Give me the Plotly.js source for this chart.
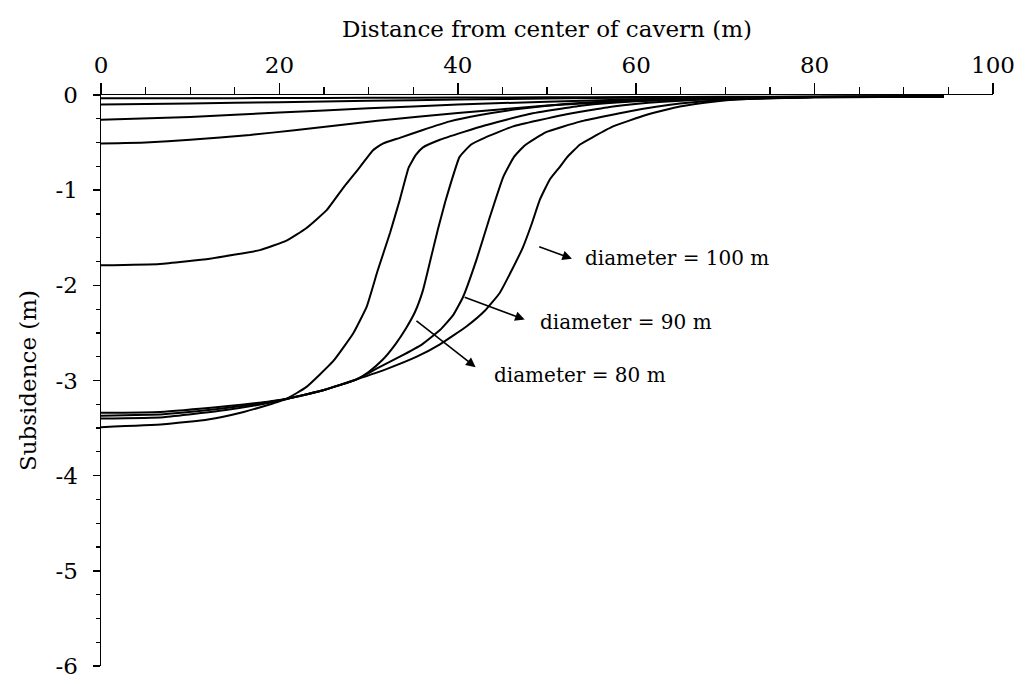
<!DOCTYPE html>
<html>
<head>
<meta charset="utf-8">
<script src="https://cdn.plot.ly/plotly-3.0.1.min.js"></script>
<style>html,body{margin:0;padding:0;background:#fff;}#chart{width:1025px;height:684px;}</style>
</head>
<body>
<div id="chart"></div>
<script>
// Flat curves near the surface
var curveA_x = [0,10,20,30,40,50,60,70,80,94.5];
var curveA_y = [-0.035,-0.034,-0.032,-0.030,-0.027,-0.024,-0.021,-0.019,-0.017,-0.015];
var curveB_x = [0,10,20,30,40,50,60,70,80,94.5];
var curveB_y = [-0.10,-0.09,-0.075,-0.06,-0.048,-0.037,-0.028,-0.022,-0.018,-0.015];
var curveC_x = [0,10,20,30,40,50,60,70,80,94.5];
var curveC_y = [-0.26,-0.23,-0.185,-0.14,-0.10,-0.07,-0.045,-0.03,-0.02,-0.015];
var curveD_x = [0,5,10,16.7,21.7,31,40,50,60,70,80,94.5];
var curveD_y = [-0.51,-0.50,-0.47,-0.42,-0.37,-0.27,-0.19,-0.11,-0.06,-0.035,-0.022,-0.015];
// S-shaped curves
var curveS1_x = [0,6.6,12.2,17.8,20.8,23,25.3,27.2,29,30.5,31.6,33.5,36,39,42.5,47,52,57,62,70,80,94.5];
var curveS1_y = [-1.79,-1.775,-1.72,-1.63,-1.53,-1.40,-1.21,-0.97,-0.76,-0.58,-0.51,-0.45,-0.37,-0.28,-0.21,-0.145,-0.095,-0.065,-0.045,-0.028,-0.02,-0.015];
var curveS2_x = [0,6.6,14,18,20.8,23,26,28.3,29.8,31,32.4,33.5,34.5,35.3,36.1,38,40.6,43,48,54,60,70,80,94.5];
var curveS2_y = [-3.34,-3.33,-3.27,-3.23,-3.19,-3.07,-2.80,-2.50,-2.22,-1.85,-1.45,-1.10,-0.76,-0.63,-0.55,-0.47,-0.39,-0.32,-0.20,-0.11,-0.065,-0.035,-0.022,-0.015];
var curveS3_x = [0,7,14,18,21,25,28.6,30,31.6,33,34.2,35.2,36.1,37.2,37.8,38.6,39.3,40.2,41.5,43,46.2,51.8,57.4,63,70,80,94.5];
var curveS3_y = [-3.37,-3.355,-3.29,-3.24,-3.19,-3.10,-2.99,-2.91,-2.78,-2.62,-2.45,-2.28,-2.05,-1.63,-1.40,-1.12,-0.90,-0.65,-0.52,-0.45,-0.33,-0.21,-0.12,-0.07,-0.04,-0.022,-0.015];
var curveS4_x = [0,7,14,18,21,25,28.6,31,33.5,36,38,39.5,40.6,42.1,43.6,45.1,46.3,47.5,49.9,53.7,59.3,64.9,70,80,94.5];
var curveS4_y = [-3.40,-3.385,-3.31,-3.25,-3.19,-3.10,-2.99,-2.87,-2.75,-2.62,-2.47,-2.31,-2.12,-1.73,-1.28,-0.86,-0.65,-0.53,-0.39,-0.28,-0.17,-0.09,-0.05,-0.025,-0.015];
var curveS5_x = [0,7,12,16,19,21,25,28.6,32,35.4,38,41,43,44.7,46,47.3,48.3,49.2,50.3,51.4,52.2,53.7,55.2,57.4,61.1,64.9,68.6,71.6,80,94.5];
var curveS5_y = [-3.49,-3.46,-3.41,-3.33,-3.25,-3.19,-3.10,-2.99,-2.88,-2.75,-2.62,-2.43,-2.27,-2.08,-1.85,-1.60,-1.35,-1.10,-0.89,-0.76,-0.66,-0.52,-0.44,-0.33,-0.21,-0.12,-0.07,-0.045,-0.022,-0.015];

var xTickVals = [0,20,40,60,80,100];
var xTickText = ['0','20','40','60','80','100'];
var yTickVals = [0,-1,-2,-3,-4,-5,-6];
var yTickText = ['0','-1','-2','-3','-4','-5','-6'];

var labels = ['diameter = 100 m','diameter = 90 m','diameter = 80 m'];

var FONT = 'DejaVu Serif';

var curves = [
  [curveA_x, curveA_y],[curveB_x, curveB_y],[curveC_x, curveC_y],[curveD_x, curveD_y],
  [curveS1_x, curveS1_y],[curveS2_x, curveS2_y],[curveS3_x, curveS3_y],[curveS4_x, curveS4_y],[curveS5_x, curveS5_y]
];
var traces = curves.map(function(c){
  return {x:c[0], y:c[1], type:'scatter', mode:'lines',
    line:{color:'#000', width:2, shape:'spline', smoothing:0.4},
    hoverinfo:'skip', showlegend:false};
});

function arrow(x0,y0,x1,y1){
  return {x:x1, y:y1, ax:x0, ay:y0, xref:'x', yref:'y', axref:'x', ayref:'y',
    text:'', showarrow:true, arrowhead:2, arrowsize:1.2, arrowwidth:1.6, arrowcolor:'#000', standoff:0, startstandoff:0};
}
function label(t,x,y){
  return {x:x, y:y, xref:'x', yref:'y', text:t, showarrow:false, xanchor:'left', yanchor:'middle',
    font:{family:FONT, size:20, color:'#000'}};
}

var layout = {
  width:1025, height:684,
  margin:{l:101, r:32, t:95, b:18},
  paper_bgcolor:'#fff', plot_bgcolor:'#fff',
  font:{family:FONT, color:'#000'},
  showlegend:false,
  xaxis:{
    range:[0,100], side:'top', showline:true, linecolor:'#000', linewidth:1.5,
    ticks:'outside', ticklen:11, tickwidth:1.5, tickcolor:'#000',
    tickvals:xTickVals, ticktext:xTickText, showgrid:false, zeroline:false,
    minor:{ticks:'outside', ticklen:7, tickwidth:1.2, tickcolor:'#000', dtick:5, showgrid:false},
    tickfont:{family:FONT, size:23, color:'#000'},
    title:{text:'Distance from center of cavern (m)', font:{family:FONT, size:23, color:'#000'}, standoff:8},
    fixedrange:true
  },
  yaxis:{
    range:[-6,0], showline:true, linecolor:'#000', linewidth:1.5,
    ticks:'outside', ticklen:7, tickwidth:1.5, tickcolor:'#000',
    tickvals:yTickVals, ticktext:yTickText, showgrid:false, zeroline:false,
    minor:{ticks:'outside', ticklen:4, tickwidth:1.2, tickcolor:'#000', dtick:0.25, showgrid:false},
    tickfont:{family:FONT, size:23, color:'#000'},
    ticklabelstandoff:10,
    title:{text:'Subsidence (m)', font:{family:FONT, size:23, color:'#000'}, standoff:12},
    fixedrange:true
  },
  annotations:[
    arrow(48.96,-1.59,52.8,-1.72),
    arrow(40.6,-2.12,47.5,-2.36),
    arrow(35.2,-2.36,42.0,-2.86),
    label(labels[0],54.0,-1.71),
    label(labels[1],48.96,-2.38),
    label(labels[2],43.8,-2.94)
  ]
};

Plotly.newPlot('chart', traces, layout, {displayModeBar:false, staticPlot:true});
</script>
</body>
</html>
